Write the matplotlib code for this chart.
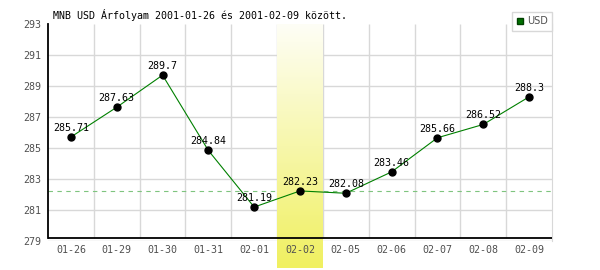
import numpy as np
import matplotlib
matplotlib.use('Agg')
import matplotlib.pyplot as plt
from matplotlib.lines import Line2D
from matplotlib.transforms import blended_transform_factory

# Data
dates = ['01-26', '01-29', '01-30', '01-31', '02-01', '02-02',
         '02-05', '02-06', '02-07', '02-08', '02-09']
usd = [285.71, 287.63, 289.7, 284.84, 281.19, 282.23,
       282.08, 283.46, 285.66, 286.52, 288.3]
highlight = 5          # index of the highlighted day (02-02)
y_ticks = [279, 281, 283, 285, 287, 289, 291, 293]

grid_col = '#d8d8d8'
label_col = '#505050'
mono = 'DejaVu Sans Mono'


def main():
    fig = plt.figure(figsize=(6, 2.7), dpi=100)
    ax = fig.add_axes([48 / 600, 29 / 270, 504 / 600, 217 / 270])

    x = np.arange(len(dates))
    ax.set_xlim(-0.5, len(dates) - 0.5)
    ax.set_ylim(y_ticks[0], y_ticks[-1])

# Grid lines
    for v in y_ticks[:-1]:
        ax.axhline(v, color=grid_col, lw=1, zorder=0)
    ax.vlines(x[:-1] + 0.5, 279.2, y_ticks[-1], color=grid_col, lw=1, zorder=0)

# Dashed line at the value of the highlighted day
    ax.axhline(usd[highlight], color='#7fc47f', lw=0.8, ls=(0, (4, 4)), zorder=1)

# Highlight band with gradient, reaching below the axis (under the tick labels)
    grad = np.linspace(0, 1, 256).reshape(-1, 1)
    cmap = matplotlib.colors.LinearSegmentedColormap.from_list(
        'band', ['#fefef6', '#f0f060'])
    trans = blended_transform_factory(ax.transData, ax.transAxes)
    ax.imshow(grad, cmap=cmap, aspect='auto', origin='upper',
              extent=[highlight - 0.5, highlight + 0.5, -27 / 217, 1],
              transform=trans, clip_on=False, zorder=1.5)

# Black axis lines
    ax.axhline(279.2, color='black', lw=1.3, zorder=3)
    for s in ['top', 'bottom']:
        ax.spines[s].set_visible(False)
    ax.spines['right'].set_color(grid_col)
    ax.spines['left'].set_color('black')
    ax.spines['left'].set_linewidth(1.3)
    ax.spines['left'].set_bounds(279.2, y_ticks[-1])

# Data line and points
    ax.plot(x, usd, color='#008000', lw=0.8, zorder=4)
    ax.plot(x, usd, 'o', color='black', ms=5, zorder=5)
    for xi, v in zip(x, usd):
        ax.annotate('%g' % v, (xi, v), xytext=(0, 6.5), textcoords='offset points',
                    ha='center', va='center', fontsize=7.2, family=mono,
                    color='black', zorder=6)

# Ticks
    ax.set_xticks(x)
    ax.set_xticklabels(dates, family=mono, fontsize=7.2, color=label_col)
    ax.set_yticks(y_ticks)
    ax.set_yticklabels([str(v) for v in y_ticks], family=mono, fontsize=7.2,
                       color=label_col)
    ax.tick_params(axis='x', length=0, pad=3)
    ax.tick_params(axis='y', length=0, pad=4.5)
    ax.set_facecolor('white')

# Title
    fig.text(53 / 600, 1 - 15 / 270,
             'MNB USD Árfolyam 2001-01-26 és 2001-02-09 között.',
             family=mono, fontsize=7.2, ha='left', va='center', color='black')

# Legend
    handle = Line2D([], [], marker='s', ls='', color='#007000',
                    markeredgecolor='#004000', ms=5)
    leg = ax.legend([handle], ['USD'], loc='upper right',
                    bbox_to_anchor=(1.0, 1 + 12 / 217), borderaxespad=0,
                    fancybox=False, framealpha=1, edgecolor=grid_col,
                    fontsize=7, handlelength=0.8, handletextpad=0.3,
                    borderpad=0.45, labelcolor=label_col)
    leg.get_frame().set_linewidth(1)

    fig.savefig('out.png', dpi=100)


if __name__ == '__main__':
    main()
